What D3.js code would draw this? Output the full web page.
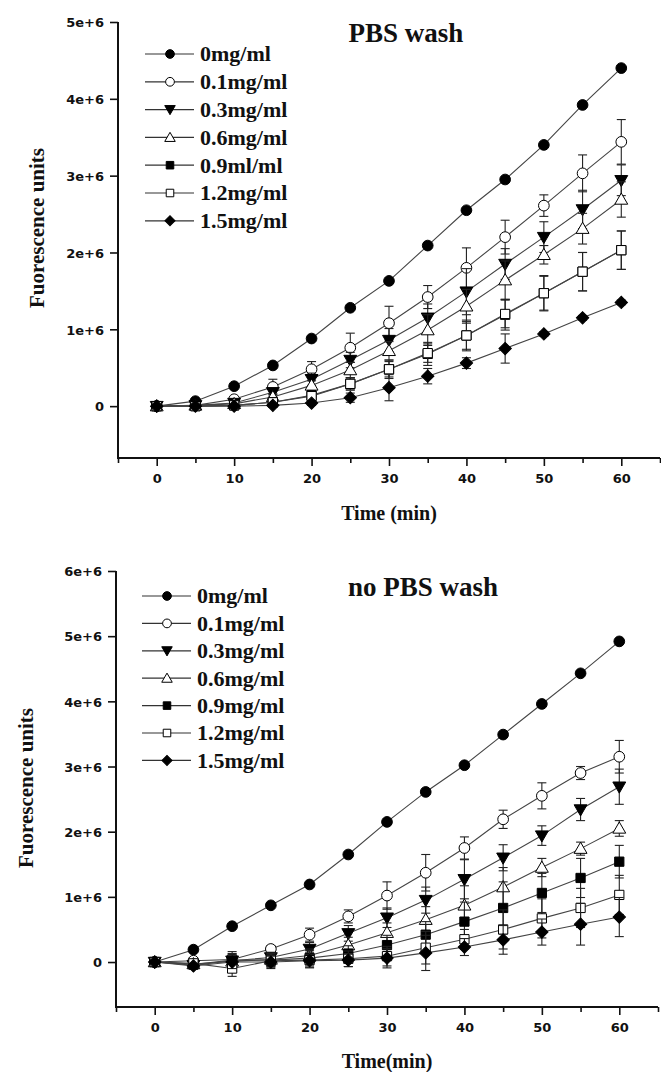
<!DOCTYPE html>
<html><head><meta charset="utf-8">
<script src="https://cdn.jsdelivr.net/npm/d3@7"></script>
<style>html,body{margin:0;padding:0;background:#fff;}svg{display:block;}</style>
</head><body>
<svg id="chart" width="661" height="1072"></svg>
<script>
// ---------- DATA ----------
const times = [0, 5, 10, 15, 20, 25, 30, 35, 40, 45, 50, 55, 60];
const seriesLabelsTop = ["0mg/ml", "0.1mg/ml", "0.3mg/ml", "0.6mg/ml", "0.9ml/ml", "1.2mg/ml", "1.5mg/ml"];
const seriesLabelsBottom = ["0mg/ml", "0.1mg/ml", "0.3mg/ml", "0.6mg/ml", "0.9mg/ml", "1.2mg/ml", "1.5mg/ml"];
const symbolKinds = ["circleFilled", "circleOpen", "triDownFilled", "triUpOpen", "squareFilled", "squareOpen", "diamondFilled"];

// PBS wash (values in units of 1e6)
const wash_0   = [0, 0.065, 0.26, 0.53, 0.88, 1.28, 1.63, 2.09, 2.55, 2.95, 3.40, 3.92, 4.40];
const wash_01  = [0, 0.01, 0.09, 0.25, 0.48, 0.76, 1.08, 1.42, 1.80, 2.20, 2.61, 3.03, 3.44];
const wash_03  = [0, 0.01, 0.04, 0.18, 0.35, 0.60, 0.86, 1.15, 1.49, 1.85, 2.20, 2.56, 2.94];
const wash_06  = [0, 0.01, 0.03, 0.12, 0.27, 0.47, 0.72, 0.99, 1.30, 1.64, 1.97, 2.31, 2.69];
const wash_09  = [0, 0.00, 0.01, 0.05, 0.14, 0.29, 0.48, 0.68, 0.92, 1.19, 1.47, 1.75, 2.03];
const wash_12  = [0, 0.00, 0.01, 0.05, 0.13, 0.29, 0.48, 0.69, 0.92, 1.20, 1.47, 1.75, 2.03];
const wash_15  = [0, 0.00, 0.00, 0.01, 0.04, 0.11, 0.24, 0.39, 0.56, 0.75, 0.94, 1.15, 1.35];
const washErr_0  = [0, 0, 0, 0, 0, 0, 0, 0, 0, 0, 0, 0, 0];
const washErr_01 = [0, 0, 0.02, 0.10, 0.10, 0.19, 0.22, 0.15, 0.26, 0.22, 0.14, 0.24, 0.29];
const washErr_03 = [0, 0, 0.02, 0.05, 0.08, 0.10, 0.15, 0.18, 0.30, 0.20, 0.20, 0.25, 0.20];
const washErr_06 = [0, 0, 0.02, 0.04, 0.06, 0.10, 0.12, 0.20, 0.22, 0.25, 0.12, 0.20, 0.23];
const washErr_09 = [0, 0, 0.01, 0.03, 0.05, 0.08, 0.12, 0.15, 0.20, 0.20, 0.22, 0.25, 0.25];
const washErr_12 = [0, 0, 0.01, 0.03, 0.05, 0.08, 0.10, 0.12, 0.18, 0.18, 0.23, 0.25, 0.25];
const washErr_15 = [0, 0, 0.01, 0.02, 0.03, 0.06, 0.17, 0.10, 0.07, 0.19, 0.03, 0.03, 0.03];

// no PBS wash (values in units of 1e6)
const nowash_0   = [0, 0.19, 0.55, 0.87, 1.19, 1.65, 2.15, 2.61, 3.02, 3.49, 3.96, 4.43, 4.92];
const nowash_01  = [0, 0.02, 0.04, 0.20, 0.42, 0.70, 1.02, 1.37, 1.75, 2.19, 2.55, 2.90, 3.15];
const nowash_03  = [0, -0.05, 0.02, 0.07, 0.20, 0.44, 0.68, 0.95, 1.27, 1.60, 1.94, 2.34, 2.69];
const nowash_06  = [0, -0.03, 0.01, 0.04, 0.10, 0.26, 0.45, 0.65, 0.87, 1.15, 1.45, 1.74, 2.05];
const nowash_09  = [0, -0.04, 0.03, 0.03, 0.06, 0.13, 0.26, 0.42, 0.62, 0.83, 1.06, 1.29, 1.54];
const nowash_12  = [0, -0.02, -0.10, 0.02, 0.03, 0.05, 0.09, 0.22, 0.35, 0.50, 0.67, 0.83, 1.03];
const nowash_15  = [0, -0.06, 0.00, 0.00, 0.02, 0.03, 0.06, 0.14, 0.23, 0.34, 0.46, 0.58, 0.69];
const nowashErr_0  = [0, 0, 0, 0, 0, 0, 0, 0, 0, 0, 0, 0, 0];
const nowashErr_01 = [0.02, 0.04, 0.12, 0.05, 0.10, 0.10, 0.21, 0.28, 0.17, 0.14, 0.20, 0.10, 0.25];
const nowashErr_03 = [0.03, 0.05, 0.10, 0.08, 0.10, 0.12, 0.15, 0.20, 0.30, 0.20, 0.15, 0.17, 0.27];
const nowashErr_06 = [0.02, 0.04, 0.10, 0.10, 0.10, 0.12, 0.15, 0.20, 0.30, 0.30, 0.14, 0.10, 0.12];
const nowashErr_09 = [0.02, 0.04, 0.10, 0.10, 0.12, 0.12, 0.15, 0.20, 0.30, 0.40, 0.30, 0.30, 0.25];
const nowashErr_12 = [0.02, 0.04, 0.12, 0.10, 0.12, 0.12, 0.15, 0.25, 0.15, 0.30, 0.30, 0.30, 0.30];
const nowashErr_15 = [0.02, 0.04, 0.10, 0.10, 0.10, 0.10, 0.15, 0.27, 0.13, 0.22, 0.20, 0.32, 0.30];

const yTicksTop = [0, 1, 2, 3, 4, 5];
const yTickLabelsTop = ["0", "1e+6", "2e+6", "3e+6", "4e+6", "5e+6"];
const yTicksBottom = [0, 1, 2, 3, 4, 5, 6];
const yTickLabelsBottom = ["0", "1e+6", "2e+6", "3e+6", "4e+6", "5e+6", "6e+6"];
const xMajorTicks = [0, 10, 20, 30, 40, 50, 60];
const xMinorTicks = [-5, 5, 15, 25, 35, 45, 55, 65];

// ---------- DRAW ----------
const svg = d3.select("#chart");
const serif = "'Liberation Serif','Times New Roman',serif";
const sans = "'DejaVu Sans',sans-serif";

function symbolPath(kind, size) {
  let type = d3.symbolCircle;
  if (kind.startsWith("tri")) type = d3.symbolTriangle;
  if (kind.startsWith("square") || kind.startsWith("diamond")) type = d3.symbolSquare;
  let s = size;
  if (kind.startsWith("tri")) s = size * 0.8;
  if (kind.startsWith("square")) s = size * 0.95;
  if (kind.startsWith("diamond")) s = size * 0.85;
  return d3.symbol().type(type).size(s)();
}
function symbolTransform(kind, x, y) {
  let r = 0;
  if (kind === "triDownFilled") r = 180;
  if (kind.startsWith("diamond")) r = 45;
  const dy = kind.startsWith("tri") ? (kind === "triDownFilled" ? -1 : 1) : 0;
  return `translate(${x},${y + dy}) rotate(${r})`;
}
function symbolFill(kind) { return kind.endsWith("Open") ? "#fff" : "#000"; }

function panel(cfg) {
  const x = d3.scaleLinear().domain([-5, 65]).range([cfg.left, cfg.right]);
  const y = d3.scaleLinear().domain([cfg.yMin, cfg.yMax]).range([cfg.bottom, cfg.top]);
  const g = svg.append("g");

  // axes
  const yAxis = d3.axisLeft(y).tickValues(cfg.yTicks).tickFormat((d, i) => cfg.yTickLabels[i]).tickSize(8).tickSizeOuter(0);
  const ya = g.append("g").attr("transform", `translate(${cfg.left},0)`).call(yAxis);
  ya.select(".domain").attr("stroke", "#111").attr("stroke-width", 2).attr("d", `M0,${cfg.top}V${cfg.bottom + 1}`);
  ya.selectAll(".tick line").attr("stroke", "#111").attr("stroke-width", 1.6);
  ya.selectAll(".tick text").attr("x", -14).attr("dy", "0.36em")
    .style("font-family", sans).style("font-weight", "bold").style("font-size", "13px").attr("fill", "#111");

  const xAxis = d3.axisBottom(x).tickValues(xMajorTicks).tickSize(8).tickSizeOuter(0).tickFormat(d3.format("d"));
  const xa = g.append("g").attr("transform", `translate(0,${cfg.bottom})`).call(xAxis);
  xa.select(".domain").attr("stroke", "#111").attr("stroke-width", 2).attr("d", `M${cfg.left - 1},0H${cfg.right}`);
  xa.selectAll(".tick line").attr("stroke", "#111").attr("stroke-width", 1.6);
  xa.selectAll(".tick text").attr("y", 16)
    .style("font-family", sans).style("font-weight", "bold").style("font-size", "13px").attr("fill", "#111");
  const xMinor = d3.axisBottom(x).tickValues(xMinorTicks).tickSize(5).tickSizeOuter(0).tickFormat("");
  const xm = g.append("g").attr("transform", `translate(0,${cfg.bottom})`).call(xMinor);
  xm.select(".domain").remove();
  xm.selectAll(".tick line").attr("stroke", "#111").attr("stroke-width", 1.6);

  // series
  const line = d3.line().x((d) => x(d.t)).y((d) => y(d.v));
  cfg.series.forEach((s, si) => {
    const pts = times.map((t, i) => ({ t, v: s.values[i], e: s.errors[i] }));
    const sg = g.append("g");
    sg.append("path").datum(pts).attr("d", line).attr("fill", "none").attr("stroke", "#444").attr("stroke-width", 1.1);
    pts.filter((p) => p.e > 0.015).forEach((p) => {
      const cx = x(p.t), y1 = y(p.v + p.e), y2 = y(p.v - p.e);
      sg.append("line").attr("x1", cx).attr("x2", cx).attr("y1", y1).attr("y2", y2).attr("stroke", "#222").attr("stroke-width", 1.1);
      [y1, y2].forEach((yy) => sg.append("line").attr("x1", cx - 4.5).attr("x2", cx + 4.5).attr("y1", yy).attr("y2", yy).attr("stroke", "#222").attr("stroke-width", 1.1));
    });
    sg.selectAll("path.m").data(pts).join("path").attr("class", "m")
      .attr("d", symbolPath(symbolKinds[si], 90))
      .attr("transform", (d) => symbolTransform(symbolKinds[si], x(d.t), y(d.v)))
      .attr("fill", symbolFill(symbolKinds[si])).attr("stroke", "#000").attr("stroke-width", 1);
  });

  // legend
  const lg = g.append("g");
  cfg.labels.forEach((lab, i) => {
    const ly = cfg.legendY + i * cfg.legendStep;
    lg.append("line").attr("x1", cfg.legendX).attr("x2", cfg.legendX + 49).attr("y1", ly).attr("y2", ly).attr("stroke", "#333").attr("stroke-width", 1.2);
    lg.append("path").attr("d", symbolPath(symbolKinds[i], 60)).attr("transform", symbolTransform(symbolKinds[i], cfg.legendX + 25, ly))
      .attr("fill", symbolFill(symbolKinds[i])).attr("stroke", "#000").attr("stroke-width", 1);
    lg.append("text").attr("x", cfg.legendX + 55).attr("y", ly).attr("dy", "0.34em").text(lab)
      .style("font-family", serif).style("font-weight", "bold").style("font-size", "22px").attr("fill", "#111");
  });

  // title
  g.append("text").attr("x", cfg.titleX).attr("y", cfg.titleY).attr("text-anchor", "middle").text(cfg.title)
    .style("font-family", serif).style("font-weight", "bold").style("font-size", "27px").attr("fill", "#111");
  // axis titles
  g.append("text").attr("x", (cfg.left + cfg.right) / 2).attr("y", cfg.xTitleY).attr("text-anchor", "middle").text(cfg.xTitle)
    .style("font-family", serif).style("font-weight", "bold").style("font-size", "20px").attr("fill", "#111");
  g.append("text").attr("transform", `translate(${cfg.yTitleX},${cfg.yTitleY}) rotate(-90)`).attr("text-anchor", "middle").text("Fuorescence units")
    .style("font-family", serif).style("font-weight", "bold").style("font-size", "21px").attr("fill", "#111");
}

panel({
  left: 118, right: 660, top: 22, bottom: 458, yMin: -0.675, yMax: 5,
  yTicks: yTicksTop, yTickLabels: yTickLabelsTop, labels: seriesLabelsTop,
  legendX: 145, legendY: 54, legendStep: 27.8,
  title: "PBS wash", titleX: 406, titleY: 42, xTitle: "Time (min)", xTitleY: 520,
  yTitleX: 44, yTitleY: 228,
  series: [
    { values: wash_0, errors: washErr_0 }, { values: wash_01, errors: washErr_01 },
    { values: wash_03, errors: washErr_03 }, { values: wash_06, errors: washErr_06 },
    { values: wash_09, errors: washErr_09 }, { values: wash_12, errors: washErr_12 },
    { values: wash_15, errors: washErr_15 }
  ]
});
panel({
  left: 116, right: 658, top: 571, bottom: 1007, yMin: -0.69, yMax: 6,
  yTicks: yTicksBottom, yTickLabels: yTickLabelsBottom, labels: seriesLabelsBottom,
  legendX: 142, legendY: 596, legendStep: 27.4,
  title: "no PBS wash", titleX: 423, titleY: 596, xTitle: "Time(min)", xTitleY: 1068,
  yTitleX: 33, yTitleY: 788,
  series: [
    { values: nowash_0, errors: nowashErr_0 }, { values: nowash_01, errors: nowashErr_01 },
    { values: nowash_03, errors: nowashErr_03 }, { values: nowash_06, errors: nowashErr_06 },
    { values: nowash_09, errors: nowashErr_09 }, { values: nowash_12, errors: nowashErr_12 },
    { values: nowash_15, errors: nowashErr_15 }
  ]
});
</script>
</body></html>
